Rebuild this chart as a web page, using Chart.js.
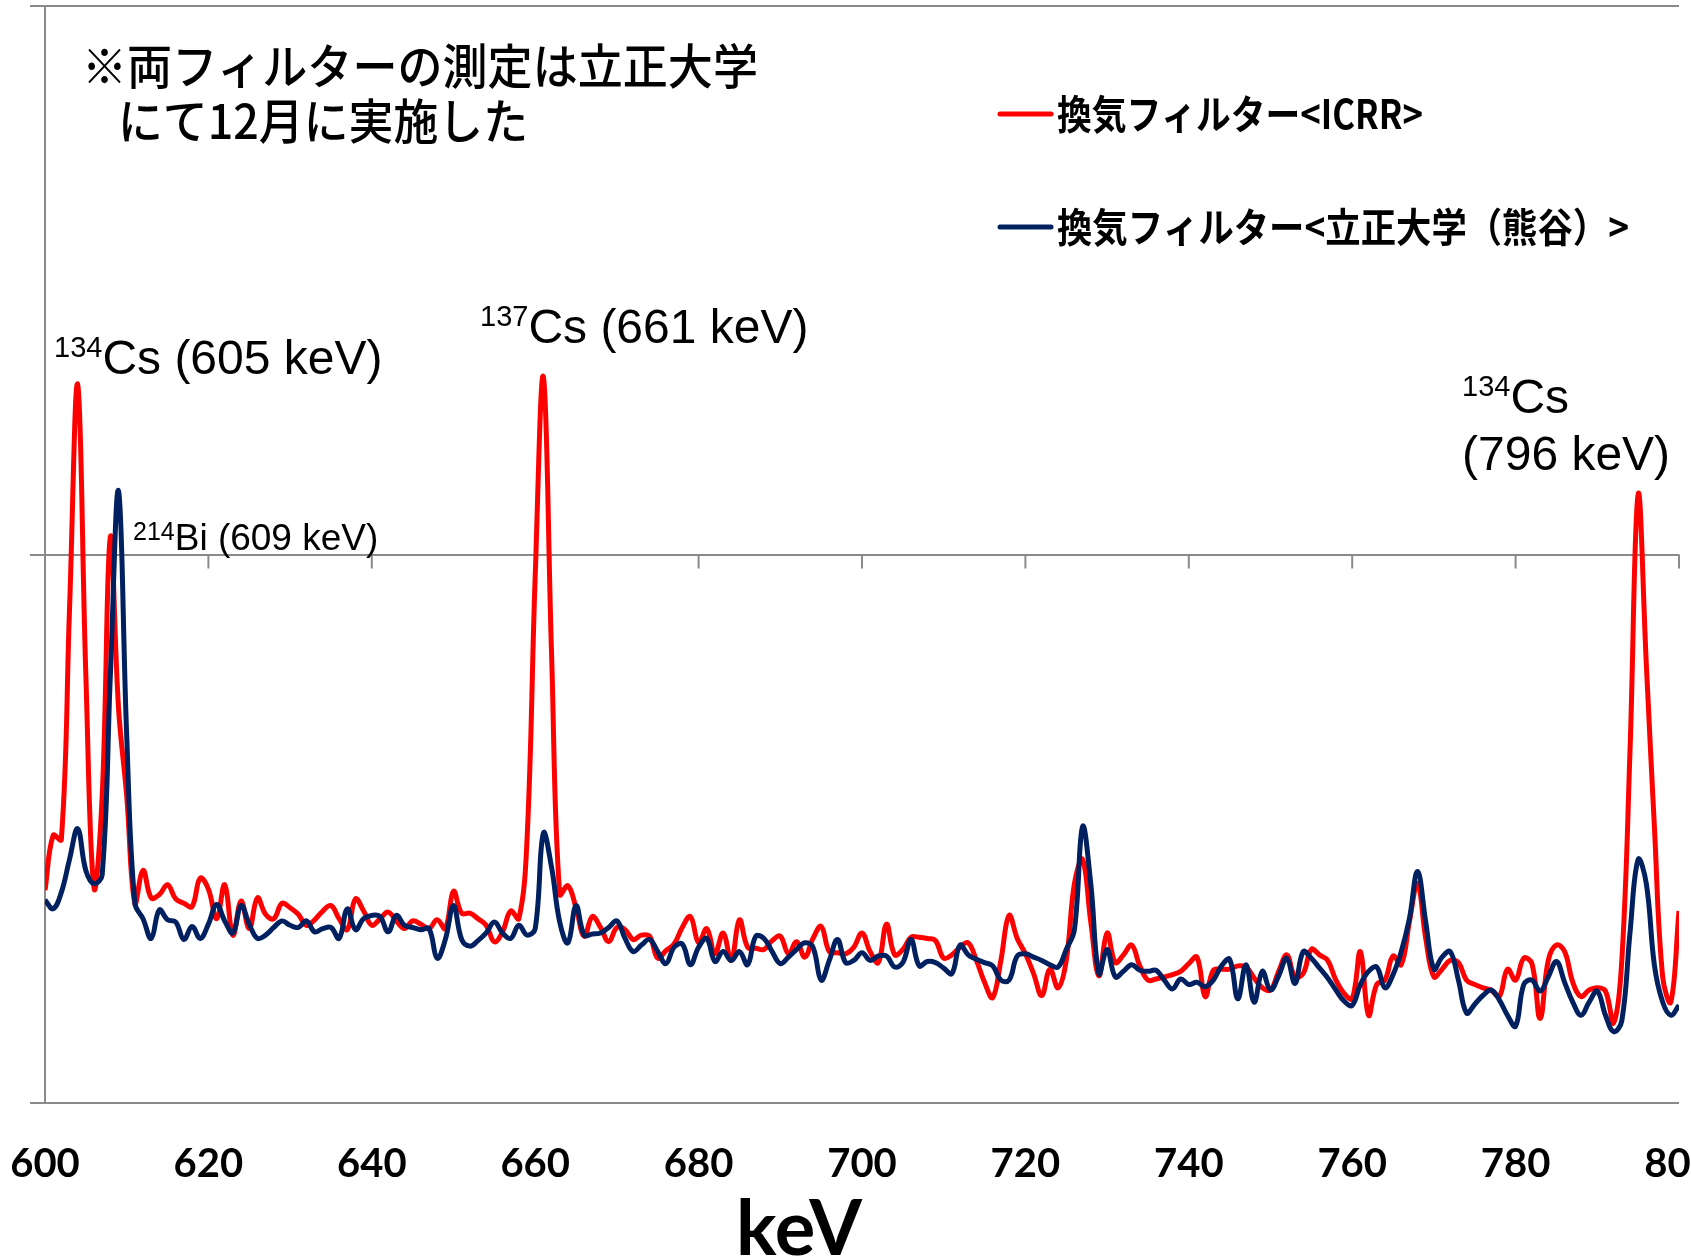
<!DOCTYPE html>
<html>
<head>
<meta charset="utf-8">
<script src="https://cdn.jsdelivr.net/npm/chart.js@4.4.1/dist/chart.umd.min.js"></script>
<style>
  html, body { margin: 0; padding: 0; background: #fff; }
  canvas { display: block; }
</style>
</head>
<body>
<canvas id="spectrumChart" width="1691" height="1260"></canvas>
<script>
// energy grid, 1 keV per point
var energies = [];
for (var e = 600; e <= 800; e++) energies.push(e);

var xTicks = [600, 620, 640, 660, 680, 700, 720, 740, 760, 780, 800];

// 換気フィルター<ICRR>
var icrrCounts = [
  194, 244, 240, 450, 655, 390, 196, 280, 516, 360,
  280, 182, 212, 187, 190, 199, 186, 182, 179, 205,
  195, 168, 199, 153, 184, 159, 187, 172, 168, 182,
  178, 172, 162, 167, 175, 180, 168, 158, 186, 175,
  162, 168, 174, 166, 159, 166, 163, 159, 167, 159,
  193, 173, 173, 168, 162, 147, 156, 175, 168, 240,
  480, 662, 410, 190, 198, 178, 152, 170, 160, 147,
  160, 158, 149, 153, 152, 132, 139, 145, 160, 170,
  146, 159, 136, 155, 130, 167, 142, 141, 140, 148,
  152, 136, 147, 133, 150, 161, 138, 137, 136, 142,
  155, 138, 128, 163, 135, 140, 151, 151, 150, 148,
  132, 135, 142, 146, 130, 110, 96, 130, 171, 150,
  136, 118, 98, 122, 105, 130, 200, 222, 165, 116,
  155, 128, 135, 144, 125, 112, 113, 115, 117, 120,
  127, 133, 97, 121, 122, 122, 125, 124, 114, 105,
  103, 120, 135, 115, 118, 140, 135, 130, 112, 100,
  95, 138, 80, 108, 112, 134, 126, 165, 200, 150,
  115, 122, 130, 128, 112, 108, 105, 103, 97, 122,
  112, 132, 127, 77, 130, 144, 138, 110, 97, 103,
  105, 102, 73, 130, 320, 555, 400, 250, 115, 92,
  175
];

// 換気フィルター<立正大学（熊谷）>
var rissyoCounts = [
  185, 177, 192, 222, 250, 212, 200, 208, 390, 558,
  335, 182, 168, 150, 176, 167, 165, 149, 161, 150,
  163, 181, 166, 155, 180, 163, 150, 153, 160, 166,
  162, 160, 166, 156, 159, 160, 150, 177, 158, 168,
  171, 170, 156, 171, 162, 160, 158, 159, 132, 149,
  180, 149, 143, 148, 155, 165, 155, 150, 162, 153,
  159, 246, 215, 165, 146, 180, 153, 154, 155, 160,
  166, 150, 138, 144, 149, 138, 127, 142, 145, 126,
  142, 150, 129, 138, 130, 138, 126, 152, 150, 138,
  127, 133, 140, 146, 142, 112, 130, 149, 128, 130,
  137, 130, 134, 134, 124, 128, 149, 125, 129, 128,
  123, 118, 144, 135, 131, 128, 125, 112, 112, 134,
  136, 133, 130, 126, 124, 140, 158, 252, 200, 118,
  140, 115, 120, 126, 121, 120, 121, 112, 104, 113,
  108, 110, 106, 112, 125, 131, 95, 126, 92, 120,
  103, 116, 132, 109, 138, 132, 123, 114, 103, 93,
  89, 108, 120, 124, 105, 117, 138, 168, 211, 165,
  122, 133, 138, 112, 82, 90, 98, 103, 94, 80,
  70, 108, 112, 102, 115, 129, 110, 92, 80, 92,
  102, 80, 65, 75, 155, 222, 200, 125, 92, 80,
  89
];

var gridColor = "#8a8a8a";
var redColor = "#ff0000";
var blueColor = "#002060";

function toPoints(values) {
  return energies.map(function (e, i) { return { x: e, y: values[i] }; });
}

function fitText(ctx, text, x, y, width) {
  var w = ctx.measureText(text).width;
  ctx.save();
  ctx.translate(x, y);
  ctx.scale(width / w, 1);
  ctx.fillText(text, 0, 0);
  ctx.restore();
}

function isotope(ctx, mass, rest, x, base, size, supSize, rise) {
  ctx.font = supSize + "px 'Liberation Sans', Arial, sans-serif";
  ctx.fillText(mass, x, base - rise);
  var w = ctx.measureText(mass).width;
  ctx.font = size + "px 'Liberation Sans', Arial, sans-serif";
  ctx.fillText(rest, x + w, base);
}

var overlay = {
  id: "overlay",
  beforeDatasetsDraw: function (chart) {
    var ctx = chart.ctx;
    var x = chart.scales.x, y = chart.scales.y;
    var y0 = y.getPixelForValue(500);
    ctx.save();
    ctx.strokeStyle = gridColor;
    ctx.lineWidth = 2;
    x.ticks.forEach(function (t) {
      var px = x.getPixelForValue(t.value);
      ctx.beginPath();
      ctx.moveTo(px, y0);
      ctx.lineTo(px, y0 + 14);
      ctx.stroke();
    });
    ctx.restore();
  },
  afterDraw: function (chart) {
    var ctx = chart.ctx;
    ctx.save();
    ctx.fillStyle = "#000";
    ctx.textAlign = "left";

    // note
    ctx.textBaseline = "middle";
    ctx.font = "500 48px 'Noto Sans CJK JP', sans-serif";
    fitText(ctx, "※両フィルターの測定は立正大学", 82, 66, 676);
    fitText(ctx, "にて12月に実施した", 118, 121, 410);

    // legend
    ctx.lineWidth = 5;
    ctx.lineCap = "round";
    ctx.strokeStyle = redColor;
    ctx.beginPath(); ctx.moveTo(1000, 114); ctx.lineTo(1051, 114); ctx.stroke();
    ctx.strokeStyle = blueColor;
    ctx.beginPath(); ctx.moveTo(1000, 227); ctx.lineTo(1051, 227); ctx.stroke();
    ctx.font = "bold 40px 'Noto Sans CJK JP', sans-serif";
    fitText(ctx, "換気フィルター<ICRR>", 1057, 114, 366);
    fitText(ctx, "換気フィルター<立正大学（熊谷）>", 1057, 227, 572);

    // peak labels
    ctx.textBaseline = "alphabetic";
    isotope(ctx, "134", "Cs (605 keV)", 54, 374, 48, 29, 17);
    isotope(ctx, "137", "Cs (661 keV)", 480, 343, 48, 29, 17);
    isotope(ctx, "214", "Bi (609 keV)", 133, 550, 37, 25, 10);
    isotope(ctx, "134", "Cs", 1462, 413, 48, 29, 17);
    ctx.font = "48px 'Liberation Sans', Arial, sans-serif";
    ctx.fillText("(796 keV)", 1462, 470);

    // axis title
    ctx.textAlign = "center";
    ctx.font = "bold 76px Lato, sans-serif";
    ctx.fillText("keV", 799, 1255);
    ctx.restore();
  }
};

var ctx = document.getElementById("spectrumChart").getContext("2d");

var chart = new Chart(ctx, {
  type: "line",
  data: {
    datasets: [
      {
        label: "換気フィルター<ICRR>",
        data: toPoints(icrrCounts),
        borderColor: redColor,
        borderWidth: 5,
        pointRadius: 0,
        tension: 0.4,
        fill: false,
        order: 1
      },
      {
        label: "換気フィルター<立正大学（熊谷）>",
        data: toPoints(rissyoCounts),
        borderColor: blueColor,
        borderWidth: 5,
        pointRadius: 0,
        tension: 0.4,
        fill: false,
        order: 0
      }
    ]
  },
  options: {
    responsive: false,
    animation: false,
    devicePixelRatio: 1,
    layout: { padding: { top: 6, right: 12, bottom: 0, left: 0 } },
    plugins: {
      legend: { display: false },
      tooltip: { enabled: false }
    },
    scales: {
      x: {
        type: "linear",
        min: 600,
        max: 800,
        afterBuildTicks: function (s) {
          s.ticks = xTicks.map(function (v) { return { value: v }; });
        },
        grid: { display: false, drawTicks: false },
        border: { display: false },
        ticks: {
          padding: 37,
          maxRotation: 0,
          autoSkip: false,
          color: "#000",
          font: { family: "Lato", weight: "bold", size: 40 }
        },
        afterFit: function (s) {
          s.height = 157;
          s.paddingLeft = 0;
          s.paddingRight = 0;
        }
      },
      y: {
        type: "linear",
        min: 0,
        max: 1000,
        ticks: { stepSize: 500, display: false },
        grid: { color: gridColor, lineWidth: 2, tickLength: 15, drawTicks: true },
        border: { display: true, color: gridColor, width: 2 },
        afterFit: function (s) {
          s.width = 45;
        }
      }
    }
  },
  plugins: [overlay]
});
</script>
</body>
</html>
